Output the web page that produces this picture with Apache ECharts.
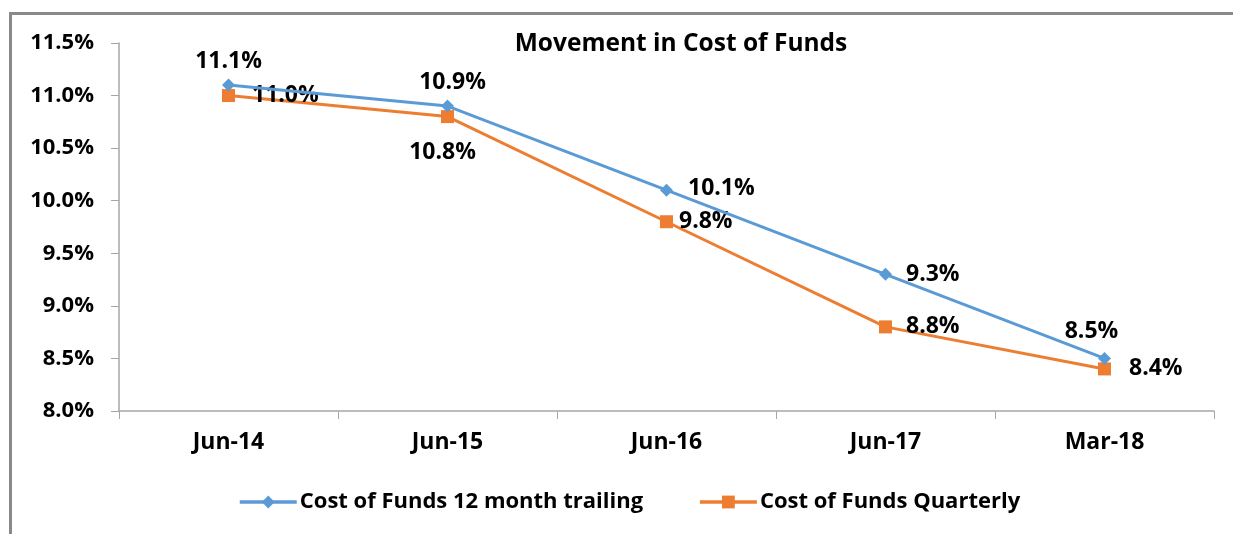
<!DOCTYPE html>
<html>
<head>
<meta charset="utf-8">
<script src="https://cdn.jsdelivr.net/npm/echarts@6/dist/echarts.min.js"></script>
<style>
  html, body { margin: 0; padding: 0; background: #fff; }
  #frame { position: absolute; left: 9px; top: 12px; width: 1224px; height: 522px;
           border-left: 3px solid #898989; border-top: 3px solid #898989; box-sizing: border-box; }
  #chart { position: absolute; left: 0; top: 0; width: 1233px; height: 534px; }
</style>
</head>
<body>
<div id="frame"></div>
<div id="chart"></div>
<script>
// 成本数据
var categories = ['Jun-14', 'Jun-15', 'Jun-16', 'Jun-17', 'Mar-18'];
var trailing = [11.1, 10.9, 10.1, 9.3, 8.5];
var quarterly = [11.0, 10.8, 9.8, 8.8, 8.4];
var trailingLabelPos = ['top', 'top', 'right', 'right', 'top'];
var quarterlyLabelPos = ['right', 'bottom', 'right', 'right', 'right'];

var FONT = '"Open Sans", "Noto Sans", sans-serif';

function buildData(values, positions, offsets) {
    var out = [];
    for (var i = 0; i < values.length; i++) {
        out.push({
            value: values[i],
            label: { position: positions[i], offset: offsets[i] }
        });
    }
    return out;
}

var myChart = echarts.init(document.getElementById('chart'));
var option = {
    animation: false,
    title: {
        text: 'Movement in Cost of Funds',
        left: 676,
        top: 27,
        textAlign: 'center',
        textStyle: { fontFamily: FONT, fontSize: 24.5, fontWeight: 'bold', color: '#000' }
    },
    grid: {
        left: 119,
        right: 19,
        top: 43,
        bottom: 123
    },
    legend: {
        bottom: 16,
        left: 233,
        itemWidth: 57,
        itemHeight: 16,
        itemGap: 55,
        textStyle: { fontFamily: FONT, fontSize: 22, fontWeight: 'bold', color: '#000', padding: [0, 0, 0, -2] },
        data: [
            { name: 'Cost of Funds 12 month trailing', lineStyle: { width: 3.5, color: '#5b9bd5' } },
            { name: 'Cost of Funds Quarterly', lineStyle: { width: 3.5, color: '#ed7d31' } }
        ]
    },
    xAxis: {
        type: 'category',
        data: categories,
        boundaryGap: true,
        axisLine: { lineStyle: { color: '#a6a6a6', width: 1.5 } },
        axisTick: { show: true, length: 8, alignWithLabel: false, lineStyle: { color: '#a6a6a6' } },
        axisLabel: { fontFamily: FONT, fontSize: 23, fontWeight: 'bold', color: '#000', margin: 20 }
    },
    yAxis: {
        type: 'value',
        min: 8.0,
        max: 11.5,
        interval: 0.5,
        axisLine: { show: true, lineStyle: { color: '#a6a6a6', width: 1.5 } },
        axisTick: { show: true, length: 8, lineStyle: { color: '#a6a6a6' } },
        splitLine: { show: false },
        axisLabel: {
            fontFamily: FONT, fontSize: 22, fontWeight: 'bold', color: '#000', margin: 25,
            formatter: function (v) { return v.toFixed(1) + '%'; }
        }
    },
    series: [
        {
            name: 'Cost of Funds 12 month trailing',
            type: 'line',
            symbol: 'diamond',
            symbolSize: 13,
            lineStyle: { color: '#5b9bd5', width: 3 },
            itemStyle: { color: '#5b9bd5' },
            data: buildData(trailing, trailingLabelPos, [[0, 0], [5, 0], [9, -2], [8, 0], [-13, -3]]),
            label: {
                show: true,
                fontFamily: FONT, fontSize: 23, fontWeight: 'bold', color: '#000',
                distance: 6,
                formatter: function (p) { return p.value.toFixed(1) + '%'; }
            },
            z: 3
        },
        {
            name: 'Cost of Funds Quarterly',
            type: 'line',
            symbol: 'rect',
            symbolSize: 13,
            lineStyle: { color: '#ed7d31', width: 3 },
            itemStyle: { color: '#ed7d31' },
            data: buildData(quarterly, quarterlyLabelPos, [[11, 0], [-5, 12], [0, 0], [8, 0], [12, 0]]),
            label: {
                show: true,
                fontFamily: FONT, fontSize: 23, fontWeight: 'bold', color: '#000',
                distance: 6,
                formatter: function (p) { return p.value.toFixed(1) + '%'; }
            },
            z: 2
        }
    ]
};
option && myChart.setOption(option);
</script>
</body>
</html>
